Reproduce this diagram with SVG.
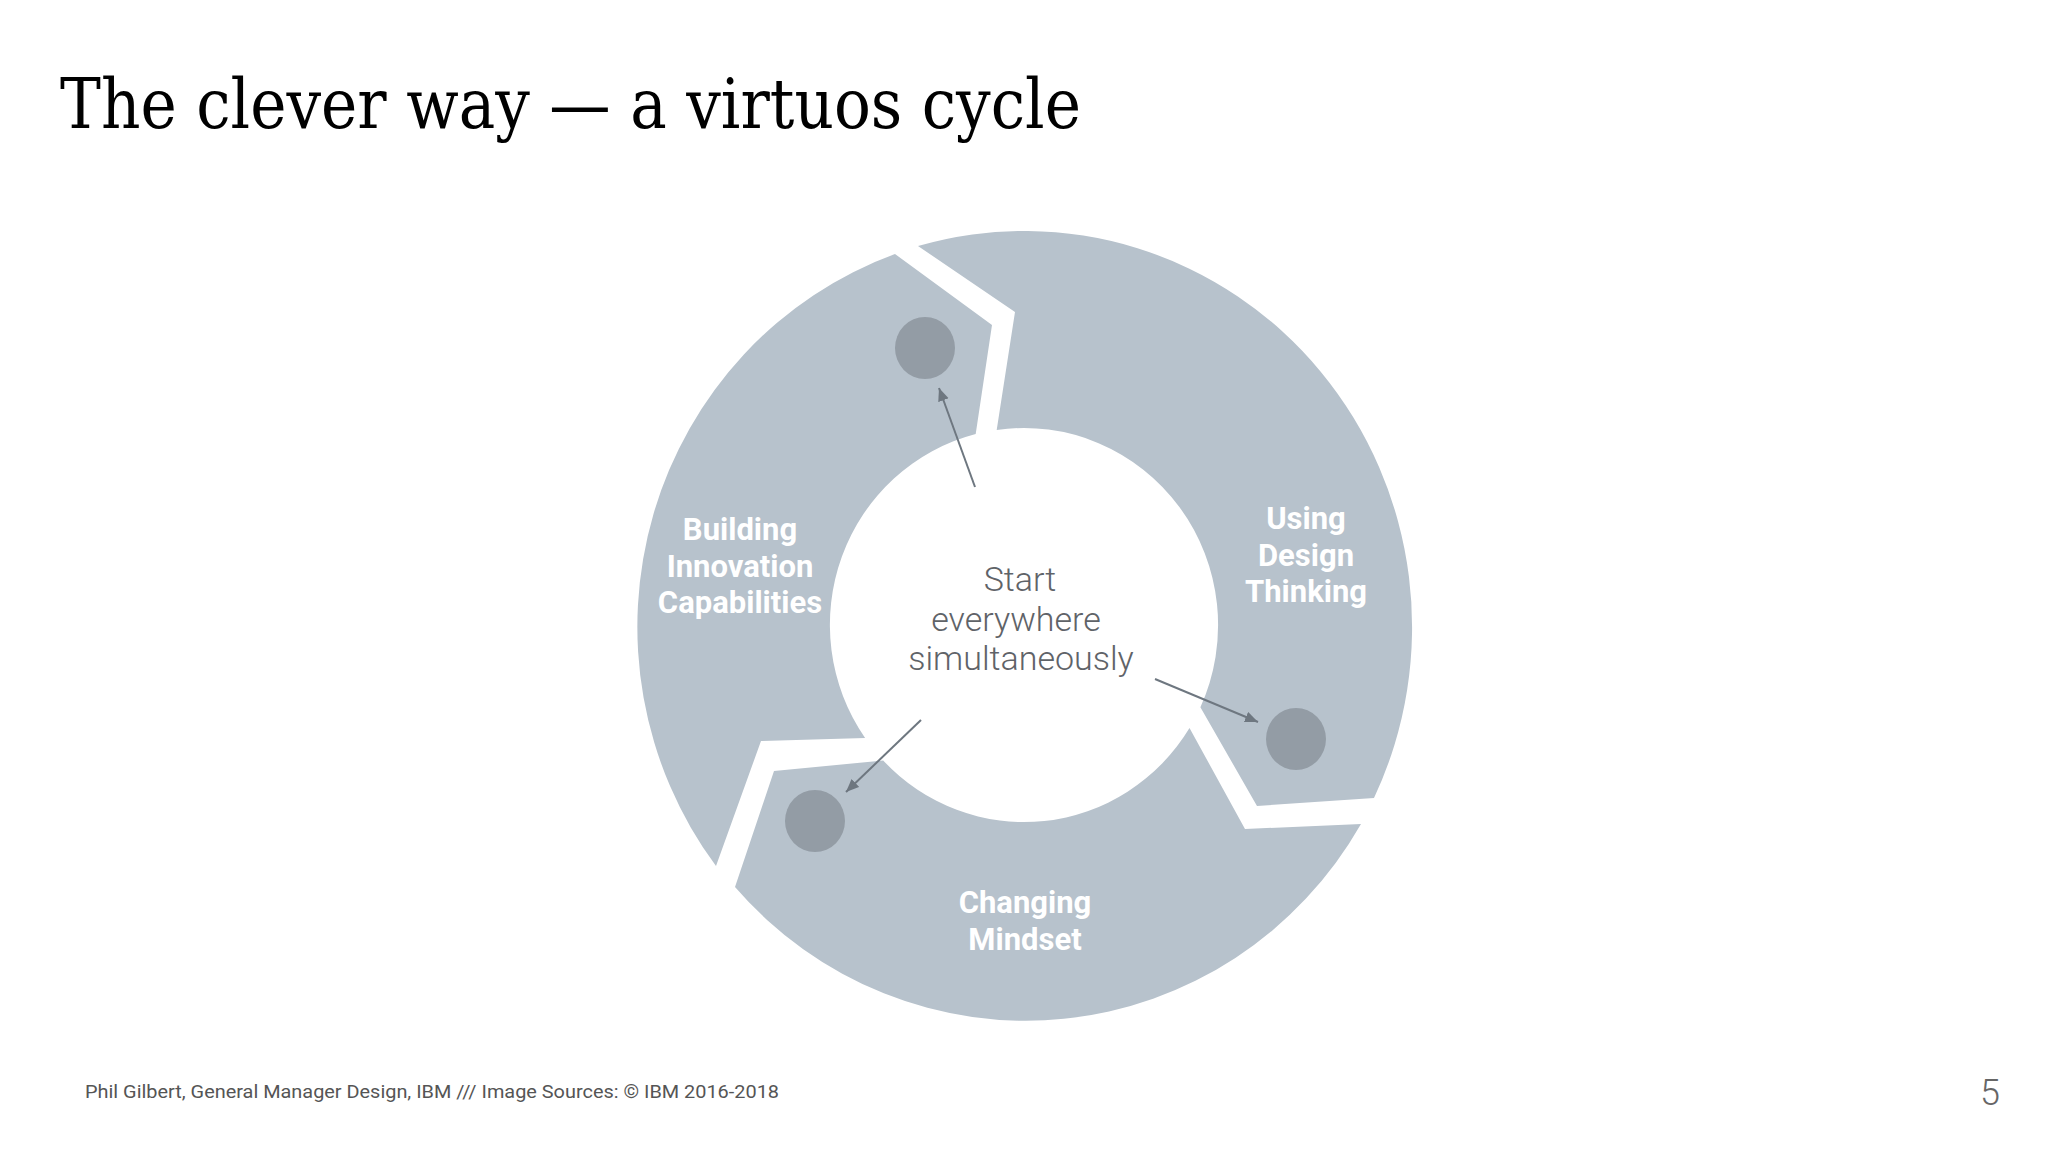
<svg xmlns="http://www.w3.org/2000/svg" width="2048" height="1152" viewBox="0 0 2048 1152">
  <style>
    .seg { fill: #b7c2cc; }
    .dot { fill: #939ca5; }
    .lbl { font-family: Roboto, "Liberation Sans", sans-serif; font-weight: 700; font-size: 31px; fill: #ffffff; text-anchor: middle; }
    .ctr { font-family: Roboto, "Liberation Sans", sans-serif; font-weight: 300; font-size: 34px; fill: #5f6368; text-anchor: middle; }
    .conn { stroke: #6e7780; stroke-width: 2; fill: none; }
  </style>
  <defs>
    <marker id="ah" markerUnits="userSpaceOnUse" markerWidth="14" markerHeight="12" refX="13" refY="5.5" orient="auto">
      <path d="M0,0 L13,5.5 L0,11 z" fill="#6e7780"/>
    </marker>
  </defs>
  <rect width="2048" height="1152" fill="#ffffff"/>
  <text x="60" y="128" font-family="'DejaVu Serif', 'Liberation Serif', serif" font-size="70" fill="#000000" textLength="1021" lengthAdjust="spacingAndGlyphs">The clever way — a virtuos cycle</text>

  <g id="building">
    <path class="seg" d="M716,866 A388,396 0 0 1 895,254 L992,325 L975.7,434 A194,197 0 0 0 865.1,738 L761,741 Z"/>
    <ellipse class="dot" cx="925" cy="348" rx="30" ry="31"/>
    <text class="lbl" x="740" y="540">Building</text>
    <text class="lbl" x="740" y="577">Innovation</text>
    <text class="lbl" x="740" y="613">Capabilities</text>
  </g>
  <g id="using">
    <path class="seg" d="M918,246 A388,396 0 0 1 1374,798 L1257,806 L1200.4,707.2 A194,197 0 0 0 996.7,430 L1015,312 Z"/>
    <ellipse class="dot" cx="1296" cy="739" rx="30" ry="31"/>
    <text class="lbl" x="1306" y="529">Using</text>
    <text class="lbl" x="1306" y="566">Design</text>
    <text class="lbl" x="1306" y="602">Thinking</text>
  </g>
  <g id="changing">
    <path class="seg" d="M1361,824 A388,396 0 0 1 735,887 L774,771 L883.2,760.5 A194,197 0 0 0 1189.5,728 L1245,829 Z"/>
    <ellipse class="dot" cx="815" cy="821" rx="30" ry="31"/>
    <text class="lbl" x="1025" y="913">Changing</text>
    <text class="lbl" x="1025" y="950">Mindset</text>
  </g>
  <g id="center">
    <text class="ctr" x="1020" y="591">Start</text>
    <text class="ctr" x="1016" y="631">everywhere</text>
    <text class="ctr" x="1021" y="670">simultaneously</text>
  </g>
  <g id="connectors">
    <line class="conn" x1="975" y1="487" x2="939" y2="388" marker-end="url(#ah)"/>
    <line class="conn" x1="1155" y1="679" x2="1258" y2="722" marker-end="url(#ah)"/>
    <line class="conn" x1="921" y1="720" x2="846" y2="792" marker-end="url(#ah)"/>
  </g>
  <text x="85" y="1098" font-family="Roboto, 'Liberation Sans', sans-serif" font-size="19" fill="#555555" textLength="694" lengthAdjust="spacingAndGlyphs">Phil Gilbert, General Manager Design, IBM /// Image Sources: © IBM 2016-2018</text>
  <text x="2000" y="1105" font-family="Roboto, 'Liberation Sans', sans-serif" font-weight="300" font-size="36" fill="#666666" text-anchor="end">5</text>
</svg>
